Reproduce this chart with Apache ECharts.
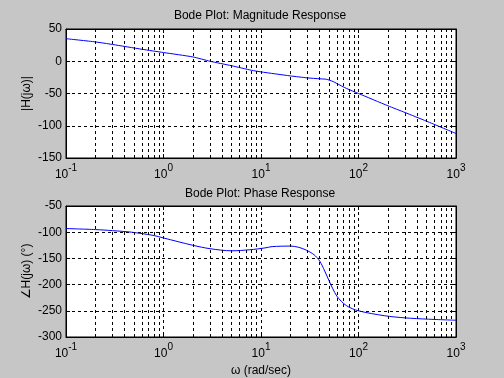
<!DOCTYPE html>
<html>
<head>
<meta charset="utf-8">
<script src="https://cdn.jsdelivr.net/npm/echarts@6/dist/echarts.min.js"></script>
<style>
html,body{margin:0;padding:0;background:#c6c6c6;}
#chart{width:504px;height:378px;}
</style>
</head>
<body>
<div id="chart"></div>
<script>
// ---- Data ----
const omegaMag = [0.1, 0.2, 0.3, 0.6, 1, 2, 3, 5, 8, 10, 20, 30, 40, 47, 55, 60, 75, 100, 200, 300, 500, 1000];
const magDb    = [35, 30, 26, 18.6, 13.5, 6.7, 0, -7, -14, -16.5, -22.7, -25.8, -27.2, -28, -31.5, -34.5, -42, -50, -69, -79.5, -93, -112];

const omegaPhase = [0.1, 0.2, 0.3, 0.47, 0.78, 1, 2, 3, 5, 7.7, 11, 13, 20, 24, 29, 35, 40, 45, 50, 60, 75, 100, 186, 300, 520, 1000];
const phaseDeg   = [-93, -95, -97, -100, -106, -111, -125, -131.5, -135.5, -133.5, -130, -127.5, -126.5, -128.5, -134, -143, -155, -174, -193, -222, -240, -250, -259.5, -263.5, -266, -268];

const magTicks = [-150, -100, -50, 0, 50];
const phaseTicks = [-300, -250, -200, -150, -100, -50];
const decades = [0.1, 1, 10, 100, 1000];

const titles = ['Bode Plot: Magnitude Response', 'Bode Plot: Phase Response'];
const yNames = ['|H(jω)|', '∠H(jω) (°)'];
const xName = 'ω (rad/sec)';

// minor vertical grid positions (2..9 times each decade)
const minorGrid = [];
decades.slice(0, -1).forEach(d => { for (let k = 2; k <= 9; k++) minorGrid.push(+(d * k).toPrecision(3)); });

const FONT = 'Liberation Sans';
const dashed = { color: '#000', width: 1, type: [3, 3] };

function xAxisCfg(gi, showLabel) {
  return {
    type: 'log', logBase: 10, gridIndex: gi, min: decades[0], max: decades[decades.length - 1],
    name: showLabel ? xName : '', nameLocation: 'middle', nameGap: 28,
    nameTextStyle: { color: '#000', fontFamily: FONT, fontSize: 12 },
    axisLine: { show: true, onZero: false, lineStyle: { color: '#000', width: 1 } },
    axisTick: { show: true, inside: true, length: 4, lineStyle: { color: '#000' } },
    splitLine: { show: true, lineStyle: dashed },
    axisLabel: {
      show: true, margin: 3, color: '#000', fontFamily: FONT,
      formatter: v => '{b|10}{s|' + Math.round(Math.log10(v)) + '}',
      rich: { b: { fontSize: 12, fontFamily: FONT, color: '#000', padding: [8, 0, 0, 0] },
              s: { fontSize: 10, fontFamily: FONT, color: '#000', padding: [0, 0, 6, 0] } }
    }
  };
}
function xTopCfg(gi) {
  return {
    type: 'log', logBase: 10, gridIndex: gi, position: 'top', min: decades[0], max: decades[decades.length - 1],
    axisLine: { show: true, onZero: false, lineStyle: { color: '#000' } },
    axisTick: { show: true, inside: true, length: 4, lineStyle: { color: '#000' } },
    axisLabel: { show: false }, splitLine: { show: false }
  };
}
function yAxisCfg(gi, ticks, name) {
  return {
    type: 'value', gridIndex: gi, min: ticks[0], max: ticks[ticks.length - 1], interval: 50,
    name: name, nameLocation: 'middle', nameGap: 33, nameMoveOverlap: false,
    nameTextStyle: { color: '#000', fontFamily: FONT, fontSize: 12 },
    axisLine: { show: true, onZero: false, lineStyle: { color: '#000' } },
    axisTick: { show: true, inside: true, length: 4, lineStyle: { color: '#000' } },
    splitLine: { show: true, lineStyle: dashed },
    axisLabel: { color: '#000', fontFamily: FONT, fontSize: 12, margin: 4 }
  };
}
function yRightCfg(gi, ticks) {
  return {
    type: 'value', gridIndex: gi, position: 'right', min: ticks[0], max: ticks[ticks.length - 1], interval: 50,
    axisLine: { show: true, onZero: false, lineStyle: { color: '#000' } },
    axisTick: { show: true, inside: true, length: 4, lineStyle: { color: '#000' } },
    axisLabel: { show: false }, splitLine: { show: false }
  };
}
function markGrid() {
  return {
    silent: true, symbol: ['none', 'none'], label: { show: false },
    lineStyle: dashed, animation: false,
    data: minorGrid.map(v => ({ xAxis: v }))
  };
}

const chart = echarts.init(document.getElementById('chart'), null, { renderer: 'canvas' });
chart.setOption({
  animation: false,
  backgroundColor: '#c6c6c6',
  title: [
    { text: titles[0], left: 260, top: 10, padding: 0, textAlign: 'center',
      textStyle: { fontFamily: FONT, fontSize: 12, fontWeight: 'normal', color: '#000' } },
    { text: titles[1], left: 260, top: 188, padding: 0, textAlign: 'center',
      textStyle: { fontFamily: FONT, fontSize: 12, fontWeight: 'normal', color: '#000' } }
  ],
  grid: [
    { left: 66, top: 29, width: 390, height: 129, show: true, backgroundColor: '#fff', borderColor: '#000', borderWidth: 1 },
    { left: 66, top: 206, width: 390, height: 131, show: true, backgroundColor: '#fff', borderColor: '#000', borderWidth: 1 }
  ],
  xAxis: [xAxisCfg(0, false), xAxisCfg(1, true), xTopCfg(0), xTopCfg(1)],
  yAxis: [yAxisCfg(0, magTicks, yNames[0]), yAxisCfg(1, phaseTicks, yNames[1]), yRightCfg(0, magTicks), yRightCfg(1, phaseTicks)],
  series: [
    { type: 'line', xAxisIndex: 0, yAxisIndex: 0, showSymbol: false, smooth: 0.2,
      lineStyle: { color: '#0000ff', width: 1 }, data: omegaMag.map((w, i) => [w, magDb[i]]),
      markLine: markGrid(), z: 3 },
    { type: 'line', xAxisIndex: 1, yAxisIndex: 1, showSymbol: false, smooth: 0.3,
      lineStyle: { color: '#0000ff', width: 1 }, data: omegaPhase.map((w, i) => [w, phaseDeg[i]]),
      markLine: markGrid(), z: 3 }
  ]
});
</script>
</body>
</html>
